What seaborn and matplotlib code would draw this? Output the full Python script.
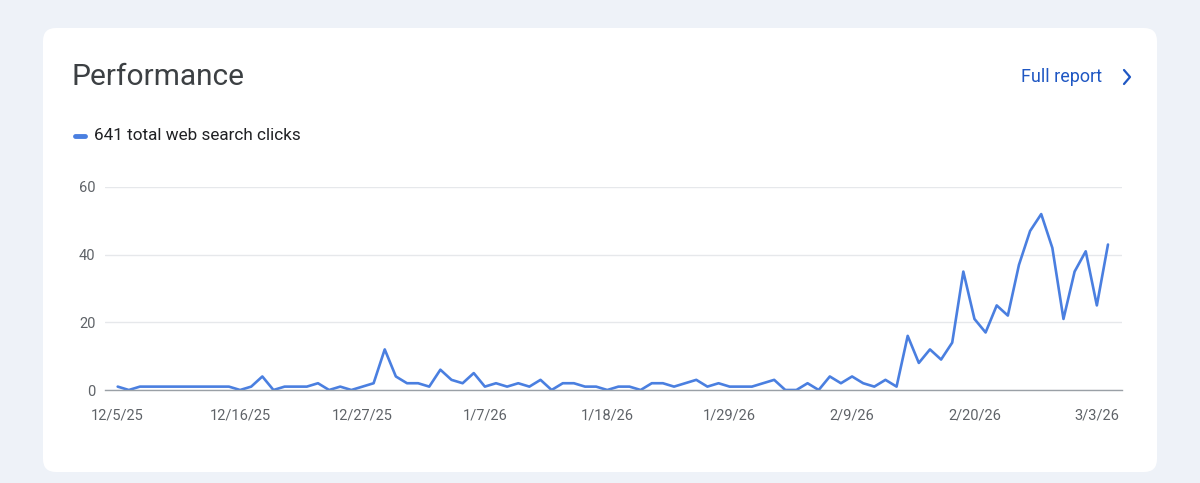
import pandas as pd
import seaborn as sns
import matplotlib.pyplot as plt
from matplotlib.patches import FancyBboxPatch
from matplotlib.lines import Line2D

# daily web search clicks, 12/5/25 .. 3/4/26
clicks = [1, 0, 1, 1, 1, 1, 1, 1, 1, 1, 1, 0, 1, 4, 0, 1, 1, 1, 2, 0,
          1, 0, 1, 2, 12, 4, 2, 2, 1, 6, 3, 2, 5, 1, 2, 1, 2, 1, 3, 0,
          2, 2, 1, 1, 0, 1, 1, 0, 2, 2, 1, 2, 3, 1, 2, 1, 1, 1, 2, 3,
          0, 0, 2, 0, 4, 2, 4, 2, 1, 3, 1, 16, 8, 12, 9, 14, 35, 21, 17, 25,
          22, 37, 47, 52, 42, 21, 35, 41, 25, 43]
start_date = "2025-12-05"
y_ticks = [0, 20, 40, 60]
title = "Performance"
legend_label = "641 total web search clicks"
link_label = "Full report"

df = pd.DataFrame({"date": pd.date_range(start_date, periods=len(clicks), freq="D"),
                   "clicks": clicks})

sns.set_theme(style="white")
plt.rcParams['font.family'] = ['Roboto', 'DejaVu Sans']

W, H = 1200, 483
fig = plt.figure(figsize=(12, 4.83), dpi=100)
fig.patch.set_facecolor("#eef2f8")

card = FancyBboxPatch((0.43, (H - 472) / 100), 11.14, 4.44,
                      boxstyle="round,pad=0,rounding_size=0.13",
                      transform=fig.dpi_scale_trans, facecolor="white",
                      edgecolor="none", zorder=-10)
fig.add_artist(card)

ax = fig.add_axes([105 / W, 1 - 390 / H, (1122 - 105) / W, (390 - 187) / H])
ax.set_facecolor("none")
blue = "#4a7fe0"
sns.lineplot(data=df, x="date", y="clicks", ax=ax, color=blue, linewidth=1.9)

day0 = df["date"].iloc[0]
ax.set_xlim(day0 - pd.Timedelta(days=1.14), day0 + pd.Timedelta(days=90.26))
ax.set_ylim(0, 60)
ax.set_yticks(y_ticks)
ticks = df["date"].iloc[::11]
ax.set_xticks(ticks)
ax.set_xticklabels([f"{d.month}/{d.day}/{d.year % 100}" for d in ticks])
ax.tick_params(axis="x", length=0, pad=13, labelsize=10.5, labelcolor="#5f6368")
ax.tick_params(axis="y", length=0, pad=7, labelsize=10.5, labelcolor="#5f6368")
ax.set_xlabel("")
ax.set_ylabel("")
ax.grid(axis="y", color="#e6e8eb", linewidth=1)
ax.grid(axis="x", visible=False)
for s in ["top", "right", "left"]:
    ax.spines[s].set_visible(False)
ax.spines["bottom"].set_color("#9aa0a6")
ax.spines["bottom"].set_linewidth(1)

fig.text(71 / W, 1 - 77 / H, title, fontsize=21.5, color="#3c4043", va="center")
fig.text(1021 / W, 1 - 77 / H, link_label, fontsize=13, color="#1f57c3",
         va="center")
fig.add_artist(Line2D([1124 / W, 1130 / W, 1124 / W],
                      [1 - 70 / H, 1 - 77 / H, 1 - 84 / H],
                      color="#1f57c3", linewidth=1.6, transform=fig.transFigure))

fig.add_artist(Line2D([75 / W, 85 / W], [1 - 136 / H, 1 - 136 / H], color=blue,
                      linewidth=3.5, solid_capstyle="round",
                      transform=fig.transFigure))
fig.text(94 / W, 1 - 136 / H, legend_label, fontsize=12.3, color="#202124",
         va="center")

fig.savefig("out.png", dpi=100, facecolor=fig.get_facecolor())
